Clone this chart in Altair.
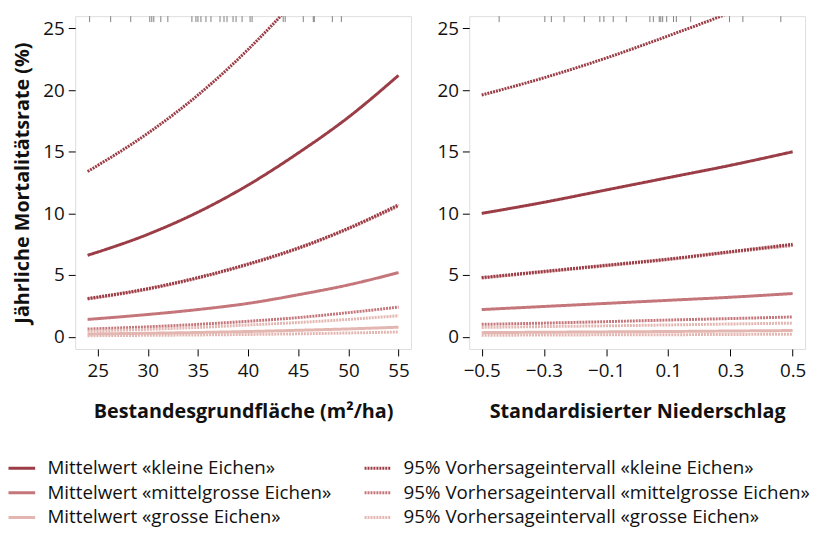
import altair as alt
import pandas as pd

# ---------------- data ----------------
# left panel: Bestandesgrundfläche
ba_x = [24, 30, 35, 40, 45, 50, 55]
ba_mw_klein = [6.6, 8.3, 10.1, 12.3, 14.9, 17.8, 21.2]
ba_hi_klein = [13.4, 16.5, 19.6, 23.3, 27.6, 32.7, 38.8]
ba_lo_klein = [3.1, 3.9, 4.8, 5.9, 7.2, 8.8, 10.7]
ba_mw_mittel = [1.4, 1.8, 2.2, 2.7, 3.4, 4.2, 5.2]
ba_hi_mittel = [3.05, 3.85, 4.75, 5.85, 7.15, 8.75, 10.6]
ba_lo_mittel = [0.62, 0.8, 1.0, 1.25, 1.55, 1.95, 2.4]
ba_mw_gross = [0.22, 0.28, 0.34, 0.42, 0.52, 0.63, 0.77]
ba_hi_gross = [0.45, 0.6, 0.75, 0.95, 1.15, 1.4, 1.7]
ba_lo_gross = [0.08, 0.11, 0.14, 0.18, 0.23, 0.3, 0.38]
ba_rug = [24.2, 26.3, 28.3, 30.2, 30.4, 30.6, 31.3, 32.0, 34.4, 34.8, 35.0,
          35.3, 35.8, 36.3, 37.2, 37.6, 37.9, 38.5, 38.8, 39.4, 40.2, 40.4,
          43.5, 43.7, 45.5, 46.5, 46.6, 48.4, 49.3]

# right panel: Standardisierter Niederschlag
ns_x = [-0.5, -0.3, -0.1, 0.1, 0.3, 0.5]
ns_mw_klein = [10.0, 10.9, 11.9, 12.9, 13.9, 15.0]
ns_hi_klein = [19.6, 21.0, 22.6, 24.4, 26.3, 28.4]
ns_lo_klein = [4.8, 5.3, 5.8, 6.3, 6.9, 7.5]
ns_mw_mittel = [2.2, 2.45, 2.7, 2.95, 3.2, 3.5]
ns_hi_mittel = [4.75, 5.25, 5.75, 6.25, 6.85, 7.4]
ns_lo_mittel = [1.0, 1.1, 1.22, 1.35, 1.47, 1.6]
ns_mw_gross = [0.33, 0.36, 0.39, 0.42, 0.46, 0.5]
ns_hi_gross = [0.75, 0.82, 0.88, 0.95, 1.03, 1.1]
ns_lo_gross = [0.12, 0.13, 0.15, 0.16, 0.18, 0.2]
ns_rug = [-0.444, -0.297, -0.276, -0.235, -0.170, -0.120, -0.107, -0.077,
          -0.035, 0.041, 0.052, 0.071, 0.076, 0.082, 0.095, 0.117, 0.126,
          0.172, 0.297, 0.340, 0.462]

ba_ticks = [25, 30, 35, 40, 45, 50, 55]
ns_ticks = [-0.5, -0.3, -0.1, 0.1, 0.3, 0.5]
y_ticks = [0, 5, 10, 15, 20, 25]

S_MK = "Mittelwert «kleine Eichen»"
S_MM = "Mittelwert «mittelgrosse Eichen»"
S_MG = "Mittelwert «grosse Eichen»"
S_PK = "95% Vorhersageintervall «kleine Eichen»"
S_PM = "95% Vorhersageintervall «mittelgrosse Eichen»"
S_PG = "95% Vorhersageintervall «grosse Eichen»"
legend_order = [S_MK, S_MM, S_MG, S_PK, S_PM, S_PG]
colors = ["#9b3d46", "#c4767b", "#e3b6b1", "#9b3d46", "#c4767b", "#e3b6b1"]
dashes = [[1, 0], [1, 0], [1, 0], [2, 1], [2, 1], [2, 1]]


def build(xs, series):
    rows = []
    for lid, (label, ys) in enumerate(series):
        for x, y in zip(xs, ys):
            rows.append({"x": x, "y": y, "serie": label, "lid": lid})
    return pd.DataFrame(rows)


ba_df = build(ba_x, [
    (S_MM, ba_mw_mittel), (S_PM, ba_hi_mittel), (S_PM, ba_lo_mittel),
    (S_MG, ba_mw_gross), (S_PG, ba_hi_gross), (S_PG, ba_lo_gross),
    (S_PK, ba_lo_klein), (S_PK, ba_hi_klein), (S_MK, ba_mw_klein),
])
ns_df = build(ns_x, [
    (S_MM, ns_mw_mittel), (S_PM, ns_hi_mittel), (S_PM, ns_lo_mittel),
    (S_MG, ns_mw_gross), (S_PG, ns_hi_gross), (S_PG, ns_lo_gross),
    (S_PK, ns_lo_klein), (S_PK, ns_hi_klein), (S_MK, ns_mw_klein),
])

FONT = "Open Sans"
W, H = 340, 337
Y_DOM = [-1, 26]

legend = alt.Legend(
    title=None, orient="none", columns=2, direction="vertical",
    legendX=-64.5, legendY=447,
    symbolType="M-1.5,0H1.5", symbolSize=324, symbolStrokeWidth=3,
    symbolFillColor="transparent",
    labelFont=FONT, labelFontSize=19, labelColor="#111",
    labelLimit=500, labelOffset=15.5, columnPadding=26.5, rowPadding=4,
)
color_enc = alt.Color("serie:N", scale=alt.Scale(domain=legend_order, range=colors), legend=legend)
dash_enc = alt.StrokeDash("serie:N", scale=alt.Scale(domain=legend_order, range=dashes), legend=legend)


def panel(df, rug, xdom, xticks, xtitle, yaxis_title, fmt):
    xscale = alt.Scale(domain=xdom, nice=False, zero=False)
    yscale = alt.Scale(domain=Y_DOM, nice=False, zero=False)
    xaxis = alt.Axis(values=xticks, title=xtitle, format=fmt, grid=False, domain=False,
                     tickSize=7, tickColor="black", labelFont=FONT, labelFontSize=19,
                     labelColor="#111", labelPadding=6, titleFont=FONT, titleFontSize=20,
                     titleFontWeight="bold", titleColor="#111", titlePadding=21,
                     labelFlush=False)
    yaxis = alt.Axis(values=y_ticks, title=yaxis_title, grid=False, domain=False,
                     tickSize=7, tickColor="black", labelFont=FONT, labelFontSize=19,
                     labelColor="#111", labelPadding=4, titleFont=FONT, titleFontSize=20,
                     titleFontWeight="bold", titleColor="#111", titlePadding=11)
    lines = alt.Chart(df).mark_line(strokeWidth=3, clip=True, interpolate="monotone").encode(
        x=alt.X("x:Q", scale=xscale, axis=xaxis),
        y=alt.Y("y:Q", scale=yscale, axis=yaxis),
        color=color_enc,
        strokeDash=dash_enc,
        detail="lid:N",
        order=alt.Order("x:Q"),
    )
    rugs = alt.Chart(pd.DataFrame({"r": rug})).mark_rule(color="#808080", strokeWidth=1).encode(
        x=alt.X("r:Q", scale=xscale),
        y=alt.value(0),
        y2=alt.value(6),
    )
    return alt.layer(rugs, lines).properties(width=W, height=H)


left = panel(ba_df, ba_rug, [22.76, 56.24], ba_ticks, "Bestandesgrundfläche (m²/ha)",
             "Jährliche Mortalitätsrate (%)", "d")
right = panel(ns_df, ns_rug, [-0.54, 0.54], ns_ticks, "Standardisierter Niederschlag",
              None, ".1f")

chart = alt.hconcat(left, right, spacing=24).resolve_scale(
    color="shared", strokeDash="shared"
).properties(
    padding={"left": 3, "top": 4, "right": 0, "bottom": 0}
).configure_view(stroke="black", strokeWidth=1.2).configure(background="white")

chart.save("out.html", embed_options={"renderer": "svg", "actions": False})
